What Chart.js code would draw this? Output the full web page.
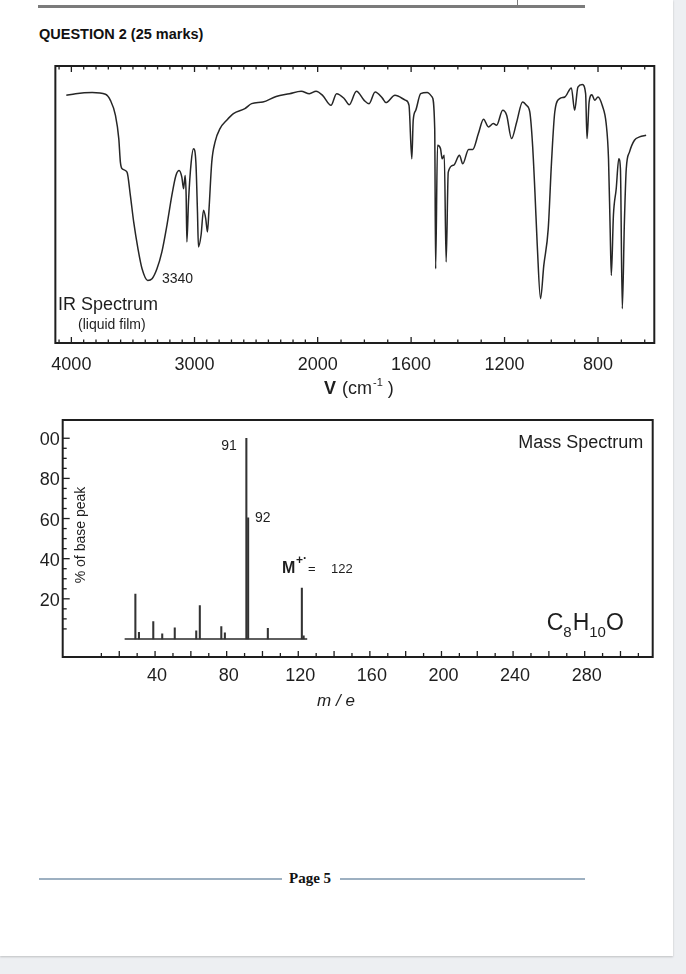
<!DOCTYPE html>
<html>
<head>
<meta charset="utf-8">
<script src="https://cdn.jsdelivr.net/npm/chart.js@4.4.1/dist/chart.umd.min.js"></script>
<style>
  body { margin: 0; width: 686px; height: 974px; overflow: hidden; background: #edeff2; }
  #page { position: absolute; left: 0; top: 0; width: 673px; height: 956px; background: #fff; box-shadow: 0 1px 2px rgba(0,0,0,0.2); }
  .rule { position: absolute; background: #7b7b7b; }
  .foot { position: absolute; top: 878px; height: 1.5px; background: #9db0c1; }
  #title { position: absolute; left: 39px; top: 27px; font: bold 14.5px/1 "Liberation Sans", Arial, sans-serif; color: #111; }
  #pageno { position: absolute; left: 289px; top: 871px; font: bold 15px/1 "Liberation Serif", serif; color: #111; }
  canvas { position: absolute; }
  #ir { left: 40px; top: 60px; }
  #ms { left: 40px; top: 405px; }
</style>
</head>
<body>
<div id="page">
  <div class="rule" style="left:38px;top:5px;width:547px;height:2.5px"></div>
  <div class="rule" style="left:516.5px;top:0;width:1.5px;height:6px"></div>
  <div id="title">QUESTION 2 (25 marks)</div>
  <canvas id="ir" width="630" height="340"></canvas>
  <canvas id="ms" width="630" height="320"></canvas>
  <div class="foot" style="left:39px;width:243px"></div>
  <div id="pageno">Page 5</div>
  <div class="foot" style="left:340px;width:245px"></div>
</div>
<script>
// IR spectrum (liquid film): wavenumber in cm-1, transmittance in %
const irWavenumber = [
  4041, 3966, 3831, 3723, 3683, 3642, 3615, 3602, 3588, 3548, 3521, 3494, 3459, 3426, 3380, 3345,
  3305, 3265, 3224, 3184, 3151, 3125, 3103, 3089, 3076, 3068, 3062, 3049, 3027, 3008, 2989, 2976,
  2968, 2947, 2927, 2909, 2895, 2882, 2860, 2833, 2793, 2739, 2684, 2591, 2536, 2445, 2337, 2229,
  2134, 2067, 2013, 1979, 1943, 1919, 1886, 1865, 1834, 1801, 1780, 1754, 1723, 1708, 1669, 1623,
  1609, 1597, 1591, 1580, 1559, 1531, 1510, 1499, 1495, 1487, 1474, 1467, 1458, 1450, 1441, 1418,
  1393, 1379, 1354, 1336, 1312, 1290, 1269, 1248, 1234, 1208, 1191, 1170, 1148, 1123, 1106, 1092,
  1080, 1070, 1060, 1046, 1032, 1013, 999, 985, 964, 942, 914, 900, 886, 867, 853, 847,
  838, 826, 814, 800, 782, 765, 755, 748, 743, 734, 722, 711, 704, 696, 687, 679,
  665, 644, 622, 594
];
const irTransmittance = [
  89.4, 90, 90.4, 89.8, 87.6, 82.2, 73.8, 65.3, 62.9, 61.7, 53.3, 43.7, 34, 26.8, 22.6, 23.2,
  26.8, 32.9, 42.5, 53.3, 60.5, 62.3, 59.9, 55.7, 60.5, 53.3, 36.5, 50.9, 65.3, 70.1, 65.3, 47.3,
  34.7, 38.9, 47.9, 44.9, 40.1, 48.5, 65.3, 72.6, 77.4, 80.4, 82.8, 84.6, 86.4, 87, 89, 90,
  90.9, 90, 90.9, 89.4, 85.8, 90, 88.2, 86, 90.9, 87.6, 86.4, 90.6, 88.4, 86.8, 89.4, 87.6,
  85.8, 66.5, 80.4, 84, 90, 90.4, 88.8, 77.4, 26.8, 71.4, 70.1, 66.5, 67.8, 29.2, 61.7, 64.2,
  67.8, 64.7, 69.9, 69.9, 75.6, 80.8, 78, 79.2, 78.6, 84, 82.2, 73.8, 79.8, 87, 85.8, 83.4,
  71.4, 54.5, 35.3, 16, 28, 41.3, 65.3, 83.4, 88.2, 88.8, 92.1, 84, 92.4, 93.3, 90, 73.8,
  87, 89.6, 87.6, 88.8, 85.8, 79.2, 66.5, 41.3, 24.4, 46.1, 55.7, 66.5, 62.9, 12.4, 43.7, 62.9,
  69, 73.2, 74.4, 75
];
const irTickLabels = [4000, 3000, 2000, 1600, 1200, 800];

// mass spectrum: m/e and % of base peak
const msMass = [29, 31, 39, 44, 51, 63, 65, 77, 79, 91, 92, 103, 122, 123];
const msAbundance = [22.4, 3.3, 8.6, 2.5, 5.5, 4, 16.6, 6.1, 3, 100, 60.4, 5.3, 25.3, 1.5];
const msBaseline = [23, 125];
const msTickLabels = [40, 80, 120, 160, 200, 240, 280];
const msAbundanceLabels = [20, 40, 60, 80, 100];

const FONT = '"Liberation Sans", Arial, sans-serif';
const INK = '#1e1e1e';
Chart.defaults.font.family = FONT;
Chart.defaults.color = INK;

// the chart paper changes its cm-1 scale at 2000: below it one unit takes more room
const SPLIT = 2000;
const LOW_STRETCH = 1.897;

class WavenumberScale extends Chart.LinearScale {
  offsetFrom(v) {
    return v >= SPLIT ? this.max - v : (this.max - SPLIT) + (SPLIT - v) * LOW_STRETCH;
  }
  getPixelForValue(v) {
    return this.left + this.offsetFrom(v) / this.offsetFrom(this.min) * this.width;
  }
  getValueForPixel(px) {
    const d = (px - this.left) / this.width * this.offsetFrom(this.min);
    const hi = this.max - SPLIT;
    return d <= hi ? this.max - d : SPLIT - (d - hi) / LOW_STRETCH;
  }
}
WavenumberScale.id = 'wavenumber';
WavenumberScale.defaults = Chart.LinearScale.defaults;
Chart.register(WavenumberScale);

function text(ctx, str, x, y, font, align) {
  ctx.font = font;
  ctx.textAlign = align || 'left';
  ctx.textBaseline = 'alphabetic';
  ctx.fillText(str, x, y);
  return x + ctx.measureText(str).width;
}

const irDecor = {
  id: 'irDecor',
  afterDraw(chart) {
    const { ctx, chartArea: a, scales: { x } } = chart;
    ctx.save();
    ctx.strokeStyle = INK;
    ctx.fillStyle = INK;
    ctx.lineWidth = 2;
    ctx.strokeRect(a.left, a.top, a.right - a.left, a.bottom - a.top);
    ctx.lineWidth = 1.3;
    for (let v = 4100; v >= 600; v -= 100) {
      const px = x.getPixelForValue(v);
      const len = irTickLabels.includes(v) ? 6 : 3.5;
      ctx.beginPath();
      ctx.moveTo(px, a.bottom); ctx.lineTo(px, a.bottom - len);
      ctx.moveTo(px, a.top); ctx.lineTo(px, a.top + len);
      ctx.stroke();
    }
    text(ctx, '3340', 122, 223, '14px ' + FONT);
    text(ctx, 'IR Spectrum', 18, 250, '18px ' + FONT);
    text(ctx, '(liquid film)', 38, 269, '14px ' + FONT);
    // axis title
    text(ctx, 'V', 284, 334, 'bold 18px ' + FONT);
    let cx = text(ctx, '(cm', 302, 334, '18px ' + FONT);
    cx = text(ctx, '-1', cx + 1, 326, '11px ' + FONT);
    text(ctx, ')', cx + 5, 334, '18px ' + FONT);
    ctx.restore();
  }
};

const msDecor = {
  id: 'msDecor',
  afterDraw(chart) {
    const { ctx, chartArea: a, scales: { x, y } } = chart;
    ctx.save();
    ctx.strokeStyle = INK;
    ctx.fillStyle = INK;
    ctx.lineWidth = 2;
    ctx.strokeRect(a.left, a.top, a.right - a.left, a.bottom - a.top);
    ctx.lineWidth = 1.3;
    for (let v = 5; v <= 100; v += 5) {
      const py = y.getPixelForValue(v);
      ctx.beginPath();
      ctx.moveTo(a.left, py); ctx.lineTo(a.left + (v % 20 === 0 ? 7 : 4), py);
      ctx.stroke();
    }
    for (let v = 10; v <= 310; v += 10) {
      const px = x.getPixelForValue(v);
      ctx.beginPath();
      ctx.moveTo(px, a.bottom); ctx.lineTo(px, a.bottom - (v % 20 === 0 ? 6 : 4));
      ctx.stroke();
    }
    text(ctx, '91', 196.7, 45, '14px ' + FONT, 'right');
    text(ctx, '92', 215, 117, '14px ' + FONT);
    text(ctx, 'M', 242, 168, 'bold 16px ' + FONT);
    text(ctx, '+', 256, 159, 'bold 12px ' + FONT);
    text(ctx, '\u00b7', 263, 157, 'bold 12px ' + FONT);
    text(ctx, '=', 268, 168, '13px ' + FONT);
    text(ctx, '122', 291, 168, '13px ' + FONT);
    text(ctx, 'Mass Spectrum', 603.3, 43, '18px ' + FONT, 'right');
    let cx = text(ctx, 'C', 506.7, 225, '23px ' + FONT);
    cx = text(ctx, '8', cx, 232, '15px ' + FONT);
    cx = text(ctx, 'H', cx + 1, 225, '23px ' + FONT);
    cx = text(ctx, '10', cx, 232, '15px ' + FONT);
    text(ctx, 'O', cx, 225, '23px ' + FONT);
    text(ctx, 'm / e', 296, 301, 'italic 17px ' + FONT, 'center');
    ctx.translate(40, 130);
    ctx.rotate(-Math.PI / 2);
    text(ctx, '% of base peak', 0, 5, '14px ' + FONT, 'center');
    ctx.restore();
  }
};

const hidden = { display: false, drawTicks: false };
const plainNumber = v => String(v);

new Chart(document.getElementById('ir'), {
  type: 'line',
  data: {
    datasets: [{
      data: irWavenumber.map((v, i) => ({ x: v, y: irTransmittance[i] })),
      borderColor: '#262626',
      borderWidth: 1.5,
      pointRadius: 0,
      fill: false,
      cubicInterpolationMode: 'monotone'
    }]
  },
  options: {
    responsive: false,
    animation: false,
    events: [],
    layout: { padding: { left: 13, right: 15.7, top: 6, bottom: 0 } },
    plugins: { legend: { display: false }, tooltip: { enabled: false } },
    scales: {
      x: {
        type: 'wavenumber',
        min: 559,
        max: 4130,
        bounds: 'data',
        offset: false,
        grid: hidden,
        border: { display: false },
        ticks: { font: { size: 18 }, color: INK, padding: 11, maxRotation: 0, autoSkip: false, callback: plainNumber },
        afterBuildTicks: s => { s.ticks = irTickLabels.map(v => ({ value: v })); },
        afterFit: s => { s.height = 57; }
      },
      y: { display: false, min: 0, max: 100 }
    }
  },
  plugins: [irDecor]
});

new Chart(document.getElementById('ms'), {
  type: 'bar',
  data: {
    datasets: [{
      type: 'bar',
      data: msMass.map((m, i) => ({ x: m, y: msAbundance[i] })),
      backgroundColor: '#333',
      barThickness: 1.4,
      borderWidth: 0,
      grouped: false
    }, {
      type: 'line',
      data: msBaseline.map(m => ({ x: m, y: 0 })),
      borderColor: '#2a2a2a',
      borderWidth: 1.6,
      pointRadius: 0
    }]
  },
  options: {
    responsive: false,
    animation: false,
    events: [],
    layout: { padding: { left: 0, right: 17.3, top: 15, bottom: 0 } },
    plugins: { legend: { display: false }, tooltip: { enabled: false } },
    scales: {
      x: {
        type: 'linear',
        min: -11.6,
        max: 318,
        bounds: 'data',
        offset: false,
        grid: hidden,
        border: { display: false },
        ticks: { font: { size: 18 }, color: INK, padding: 8, labelOffset: 2, maxRotation: 0, autoSkip: false, callback: plainNumber },
        afterBuildTicks: s => { s.ticks = msTickLabels.map(v => ({ value: v })); },
        afterFit: s => { s.height = 68; }
      },
      y: {
        type: 'linear',
        min: -9,
        max: 109.1,
        bounds: 'data',
        grid: hidden,
        border: { display: false },
        ticks: { font: { size: 18 }, color: INK, padding: 3, labelOffset: 2, autoSkip: false, callback: plainNumber },
        afterBuildTicks: s => { s.ticks = msAbundanceLabels.map(v => ({ value: v })); },
        afterFit: s => { s.width = 22.7; }
      }
    }
  },
  plugins: [msDecor]
});
</script>
</body>
</html>
